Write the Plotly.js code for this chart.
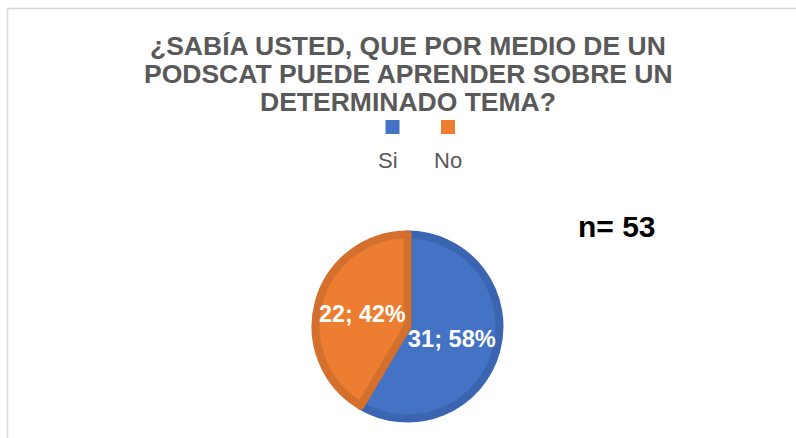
<!DOCTYPE html>
<html>
<head>
<meta charset="utf-8">
<script src="https://cdn.plot.ly/plotly-3.0.1.min.js"></script>
<style>
  html, body { margin: 0; padding: 0; background: #ffffff; }
  #chart { width: 796px; height: 438px; }
</style>
</head>
<body>
<div id="chart"></div>
<script>
// ---- data ----
const categories = ['Si', 'No'];
const values = [31, 22];
const sliceColors = ['#4472C4', '#ED7D31'];
const borderColors = ['#3B65B0', '#D4702D'];
const titleLines = ['¿SABÍA USTED, QUE POR MEDIO DE UN', 'PODSCAT PUEDE APRENDER SOBRE UN', 'DETERMINADO TEMA?'];

const W = 796, H = 438;
const total = values.reduce((a, b) => a + b, 0);

// pie geometry (px)
const cx = 407.5, cy = 326.5, lineW = 8, rOuter = 96;
const r = rOuter - lineW / 2;
const px = v => v / W;
const py = v => 1 - v / H;

const trace = {
  type: 'pie',
  labels: categories,
  values: values,
  sort: false,
  direction: 'clockwise',
  rotation: 0,
  marker: { colors: sliceColors, line: { color: borderColors, width: lineW } },
  texttemplate: '%{value}; %{percent:.0%}',
  textposition: 'inside',
  insidetextorientation: 'horizontal',
  textfont: { family: 'Liberation Sans, Arial, sans-serif', size: 24, color: '#ffffff', weight: 'bold' },
  hoverinfo: 'label+value+percent',
  showlegend: false,
  domain: { x: [px(cx - r), px(cx + r)], y: [py(cy + r), py(cy - r)] }
};

const annotations = [];
const titleY = [46, 73.5, 101.5];
titleLines.forEach((t, i) => {
  annotations.push({
    text: t, xref: 'paper', yref: 'paper', x: px(408), y: py(titleY[i]),
    xanchor: 'center', yanchor: 'middle', showarrow: false,
    font: { family: 'Liberation Sans, Arial, sans-serif', size: 26.5, color: '#595959', weight: 'bold' }
  });
});

// custom legend: square above label
const legendX = [392.5, 448];
const shapes = [];
categories.forEach((c, i) => {
  shapes.push({
    type: 'rect', xref: 'paper', yref: 'paper',
    x0: px(legendX[i] - 7), x1: px(legendX[i] + 7),
    y0: py(134), y1: py(120),
    fillcolor: sliceColors[i], line: { width: 0 }
  });
  annotations.push({
    text: c, xref: 'paper', yref: 'paper', x: px(legendX[i] - (i === 0 ? 5 : 0)), y: py(160),
    xanchor: 'center', yanchor: 'middle', showarrow: false,
    font: { family: 'Liberation Sans, Arial, sans-serif', size: 22, color: '#595959' }
  });
});

annotations.push({
  text: 'n= ' + total, xref: 'paper', yref: 'paper', x: px(617), y: py(226),
  xanchor: 'center', yanchor: 'middle', showarrow: false,
  font: { family: 'Liberation Sans, Arial, sans-serif', size: 30, color: '#000000', weight: 'bold' }
});

// chart frame
shapes.push({
  type: 'rect', xref: 'paper', yref: 'paper',
  x0: px(7.5), x1: px(820), y0: py(460), y1: py(8.5),
  line: { color: '#D9D9D9', width: 1.5 }, fillcolor: 'rgba(0,0,0,0)'
});

const layout = {
  width: W, height: H,
  margin: { l: 0, r: 0, t: 0, b: 0 },
  paper_bgcolor: '#ffffff',
  plot_bgcolor: '#ffffff',
  showlegend: false,
  annotations: annotations,
  shapes: shapes
};

Plotly.newPlot('chart', [trace], layout, { displayModeBar: false, staticPlot: true });
</script>
</body>
</html>
